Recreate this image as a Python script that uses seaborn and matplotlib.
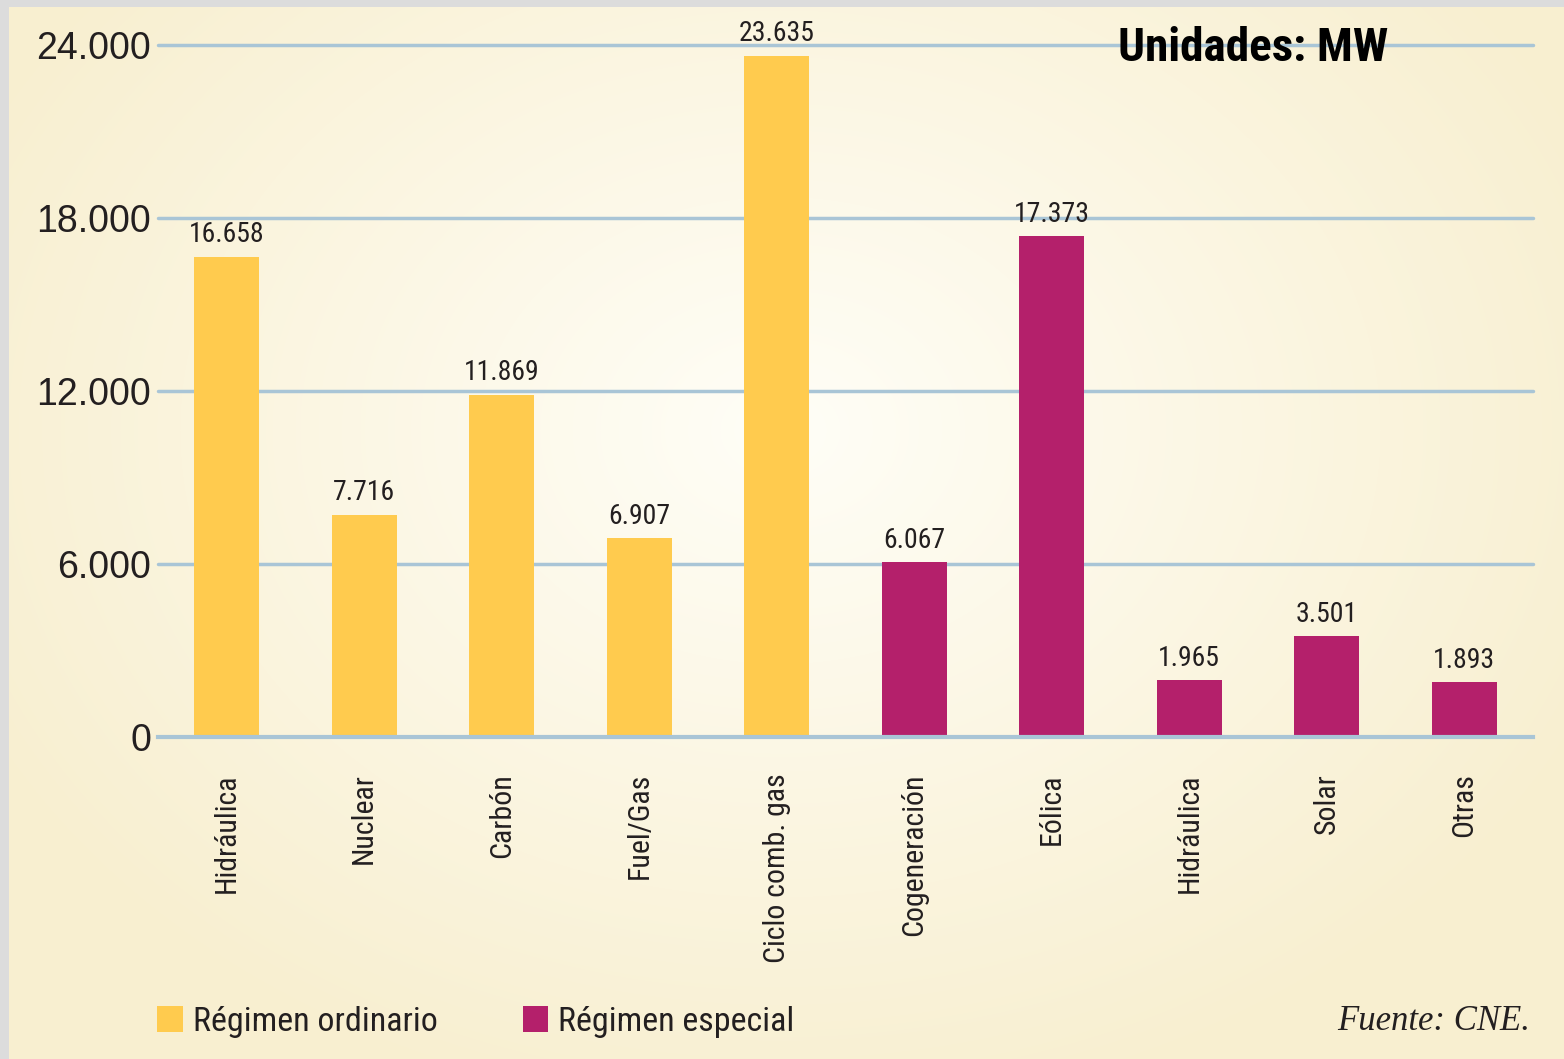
import numpy as np
import pandas as pd
import seaborn as sns
import matplotlib.pyplot as plt
from matplotlib import font_manager as fm
from matplotlib.patches import Rectangle, Patch

# data (MW)
categorias = ["Hidráulica", "Nuclear", "Carbón", "Fuel/Gas", "Ciclo comb. gas",
              "Cogeneración", "Eólica", "Hidráulica", "Solar", "Otras"]
potencia = [16658, 7716, 11869, 6907, 23635, 6067, 17373, 1965, 3501, 1893]
regimen = ["Régimen ordinario"] * 5 + ["Régimen especial"] * 5
y_ticks = [0, 6000, 12000, 18000, 24000]

colores = {"Régimen ordinario": "#FFCB4E", "Régimen especial": "#B4206B"}
grid_col = "#A9C5D6"

sns.set_theme(style="white")

# pick a narrow sans if there is one
nombres = {f.name for f in fm.fontManager.ttflist}
narrow = "Liberation Sans"
for cand in ["Roboto Condensed", "Liberation Sans Narrow", "DejaVu Sans Condensed", "Arial Narrow"]:
    if cand in nombres:
        narrow = cand
        break
plt.rcParams["font.family"] = [narrow, "DejaVu Sans"]

df = pd.DataFrame({"pos": [str(i) for i in range(len(categorias))],
                   "potencia": potencia, "regimen": regimen})

fig = plt.figure(figsize=(15.64, 10.59), dpi=100)

# background: cream radial gradient + grey border
bg = fig.add_axes([0, 0, 1, 1], zorder=-10)
yy, xx = np.mgrid[0:1059, 0:1564]
r = np.sqrt(((xx - 780) / 900.0) ** 2 + ((yy - 430) / 700.0) ** 2)
r = np.clip(r, 0, 1)[..., None]
c0 = np.array([255, 254, 247]) / 255
c1 = np.array([248, 239, 208]) / 255
bg.imshow(c0 * (1 - r) + c1 * r, aspect="auto", extent=[0, 1, 0, 1])
bg.add_patch(Rectangle((0, 0), 9 / 1564, 1, color="#DCDCDC", lw=0))
bg.add_patch(Rectangle((0, 1 - 7 / 1059), 1, 7 / 1059, color="#DCDCDC", lw=0))
bg.set_xlim(0, 1); bg.set_ylim(0, 1)
bg.axis("off")

ax = fig.add_axes([158 / 1564, 1 - 737 / 1059, (1533 - 158) / 1564, (737 - 45) / 1059])
ax.patch.set_alpha(0)

sns.barplot(data=df, x="pos", y="potencia", hue="regimen", palette=colores,
            dodge=False, width=0.47, saturation=1, legend=False, ax=ax, zorder=3,
            linewidth=0, edgecolor="none")

ax.set_xlim(-0.5, len(categorias) - 0.5)
ax.set_ylim(0, 24000)
ax.set_yticks(y_ticks)
ax.set_yticklabels([f"{v:,}".replace(",", ".") for v in y_ticks],
                   fontsize=27, color="#231F20", family=["Liberation Sans", "DejaVu Sans"])
ax.tick_params(axis="y", length=0, pad=5)
ax.set_xticks(range(len(categorias)))
ax.set_xticklabels(categorias, rotation=90, fontsize=21.5, color="#231F20", va="top")
ax.tick_params(axis="x", which="major", length=0, pad=26)
ax.set_xticks(np.arange(-0.5, len(categorias)), minor=True)
ax.tick_params(axis="x", which="minor", length=10, width=2.5, color=grid_col, direction="out")
ax.set_xlabel("")
ax.set_ylabel("")

for yv in y_ticks[1:]:
    ax.axhline(yv, color=grid_col, lw=2.5, zorder=1, clip_on=False)

for s in ["top", "right", "left"]:
    ax.spines[s].set_visible(False)
ax.spines["bottom"].set_color(grid_col)
ax.spines["bottom"].set_linewidth(3)
ax.spines["bottom"].set_zorder(4)

for i, v in enumerate(potencia):
    ax.annotate(f"{v:,}".replace(",", "."), (i, v), xytext=(0, 6), textcoords="offset points",
                ha="center", va="bottom", fontsize=20, color="#231F20", annotation_clip=False)

fig.text(1118 / 1564, 1 - 48 / 1059, "Unidades: MW", fontsize=34, fontweight="bold",
         ha="left", va="center", color="black")
fig.text(1530 / 1564, 1 - 1022 / 1059, "Fuente: CNE.", fontsize=25, style="italic",
         family=["Liberation Serif", "DejaVu Serif"], ha="right", va="center", color="#231F20")

handles = [Patch(facecolor=colores[k], edgecolor="none", label=k) for k in colores]
fig.legend(handles=handles, loc="center left", bbox_to_anchor=(157 / 1564, 1 - 1022 / 1059),
           ncol=2, frameon=False, fontsize=24.5, handlelength=0.75, handleheight=0.8,
           handletextpad=0.3, columnspacing=2.5, borderpad=0, borderaxespad=0,
           labelcolor="#231F20")

fig.savefig("out.png", dpi=100)
